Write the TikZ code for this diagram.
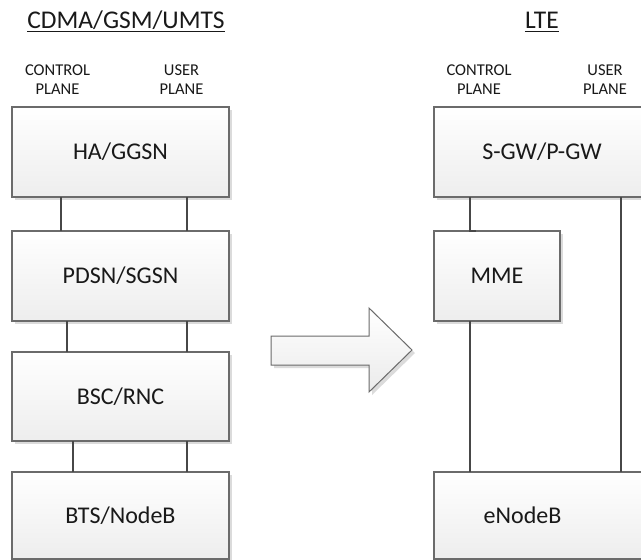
\documentclass[tikz,border=0pt]{standalone}
\usepackage{fontspec}
\setmainfont{Carlito}
\usetikzlibrary{shadows}

\begin{document}
\begin{tikzpicture}[x=1pt,y=-1pt,
  shadowed/.style={drop shadow={shadow xshift=3pt,shadow yshift=-3pt,fill=black!14,opacity=1}},
  box/.style={draw=black!58,line width=1.1pt,top color=white,bottom color=black!7,
    shadowed,inner sep=0pt,outer sep=0pt,anchor=north west,
    font=\fontsize{24}{28}\selectfont,text=black!90,text height=15.5pt,text depth=0pt},
  boxtext/.style={font=\fontsize{24}{28}\selectfont,text=black!90,text height=15.5pt,text depth=0pt,inner sep=0pt},
  link/.style={draw=black!72,line width=1.8pt},
  heading/.style={font=\fontsize{25.5}{30}\selectfont,text=black!90,inner sep=0pt,anchor=base},
  plane/.style={font=\fontsize{16.5}{19}\selectfont,text=black!90,inner sep=0pt,anchor=base},
]
\clip (0,0) rectangle (641,560);
\fill[white] (0,0) rectangle (641,560);

% headings
\node[heading] (t1) at (126,28.5) {CDMA/GSM/UMTS};
\draw[line width=1pt,black!90] ([yshift=-3.2pt]t1.base west) -- ([yshift=-3.2pt]t1.base east);
\node[heading] (t2) at (542,28.5) {LTE};
\draw[line width=1pt,black!90] ([yshift=-3.2pt]t2.base west) -- ([yshift=-3.2pt]t2.base east);

% plane labels
\node[plane] (lc1) at (57.5,75) {CONTROL};
\node[plane] (lc2) at (57.5,94.3) {PLANE};
\node[plane] (lu1) at (181.5,75) {USER};
\node[plane] (lu2) at (181.5,94.3) {PLANE};
\node[plane] (rc1) at (479,75) {CONTROL};
\node[plane] (rc2) at (479,94.3) {PLANE};
\node[plane] (ru1) at (605,75) {USER};
\node[plane] (ru2) at (605,94.3) {PLANE};

% legacy stack
\node[box,minimum width=217,minimum height=90] (ha)   at (12,107) {HA/GGSN};
\node[box,minimum width=217,minimum height=90] (pdsn) at (12,231) {PDSN/SGSN};
\node[box,minimum width=217,minimum height=89] (bsc)  at (12,352) {BSC/RNC};
\node[box,minimum width=217,minimum height=87] (bts)  at (12,472) {BTS/NodeB};

% LTE stack
\node[box,minimum width=216,minimum height=90] (sgw) at (434,107) {S-GW/P-GW};
\node[box,minimum width=126,minimum height=90] (mme) at (434,231) {MME};
\node[box,minimum width=216,minimum height=87] (enb) at (434,472) {};
\node[boxtext] (enbtext) at (522.5,515.5) {eNodeB};

% transition arrow
\draw[draw=black!58,line width=1pt,top color=white,bottom color=black!8,shadowed]
  (271,336) -- (369,336) -- (369,308) -- (412,350) -- (369,392) -- (369,365) -- (271,365) -- cycle;

% legacy links
\draw[link] ([xshift=49]ha.south west) -- ([xshift=49]pdsn.north west);
\draw[link] ([xshift=175]ha.south west) -- ([xshift=175]pdsn.north west);
\draw[link] ([xshift=55]pdsn.south west) -- ([xshift=55]bsc.north west);
\draw[link] ([xshift=175]pdsn.south west) -- ([xshift=175]bsc.north west);
\draw[link] ([xshift=61]bsc.south west) -- ([xshift=61]bts.north west);
\draw[link] ([xshift=175]bsc.south west) -- ([xshift=175]bts.north west);

% LTE links
\draw[link] ([xshift=36]sgw.south west) -- ([xshift=36]mme.north west) -- ([xshift=42]mme.north west);
\draw[link] ([xshift=36]mme.south west) -- ([xshift=36]enb.north west);
\draw[link] ([xshift=187]sgw.south west) -- ([xshift=187]enb.north west);
\end{tikzpicture}
\end{document}
